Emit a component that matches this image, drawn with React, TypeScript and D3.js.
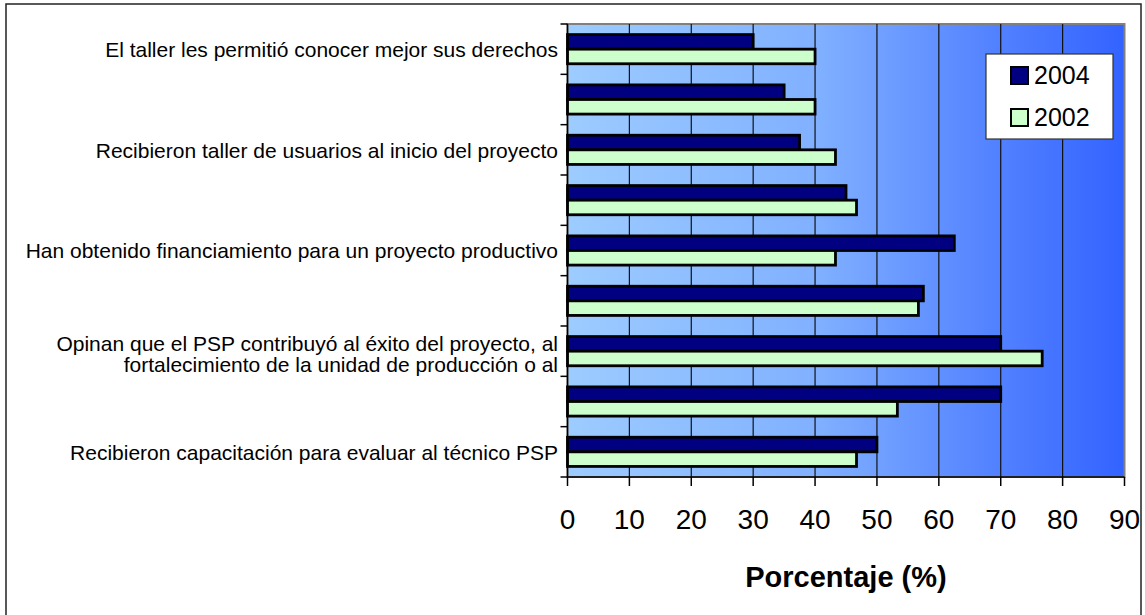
import React from "react";
import * as d3 from "d3";

// Survey items, top to bottom. Items without a printed label are left blank
// (the axis only shows every other label).
const categoryLabels: string[][] = [
  ["El taller les permitió conocer mejor sus derechos"],
  [""],
  ["Recibieron taller de usuarios al inicio del proyecto"],
  [""],
  ["Han obtenido financiamiento para un proyecto productivo"],
  [""],
  [
    "Opinan que el PSP contribuyó al éxito del proyecto, al",
    "fortalecimiento de la unidad de producción o al",
  ],
  [""],
  ["Recibieron capacitación para evaluar al técnico PSP"],
];

const seriesNames = ["2004", "2002"];
const values2004 = [30, 35, 37.5, 45, 62.5, 57.5, 70, 70, 50];
const values2002 = [40, 40, 43.3, 46.7, 43.3, 56.7, 76.7, 53.3, 46.7];
const xTicks = [0, 10, 20, 30, 40, 50, 60, 70, 80, 90];
const xTitle = "Porcentaje (%)";

const W = 1145;
const H = 615;
const plot = { left: 567.5, right: 1124.5, top: 24, bottom: 477 };
const colors: Record<string, string> = { "2004": "#000080", "2002": "#CCFFCC" };
const font = "'Liberation Sans', Arial, sans-serif";

export default function App() {
  const keys = categoryLabels.map((_, i) => String(i));
  const x = d3.scaleLinear().domain([0, 90]).range([plot.left, plot.right]);
  const y0 = d3
    .scaleBand<string>()
    .domain(keys)
    .range([plot.top, plot.bottom])
    .paddingInner(0.42)
    .paddingOuter(0.21);
  const y1 = d3
    .scaleBand<string>()
    .domain(seriesNames)
    .range([0, y0.bandwidth()]);
  const step = y0.step();
  const bandStart = (k: string) => (y0(k) as number) - step * 0.21;
  const bandCenter = (k: string) => bandStart(k) + step / 2;

  const seriesValues: Record<string, number[]> = {
    "2004": values2004,
    "2002": values2002,
  };

  const gridValues = xTicks.filter((t) => t > 0 && t < 90);
  const catTicks = d3.range(keys.length + 1).map((i) => plot.top + i * step);
  const lineH = 21;

  return (
    <svg
      width={W}
      height={H}
      style={{ position: "absolute", left: 0, top: 0, background: "#fff" }}
      fontFamily={font}
    >
      <defs>
        <linearGradient id="plotBg" x1="0" x2="1" y1="0" y2="0">
          <stop offset="0" stopColor="#9DCCFF" />
          <stop offset="0.45" stopColor="#80B0FF" />
          <stop offset="0.75" stopColor="#5584FF" />
          <stop offset="1" stopColor="#3363FF" />
        </linearGradient>
      </defs>

      {/* chart frame */}
      <rect x={6} y={4} width={1135} height={H + 10} fill="#fff" stroke="#222" strokeWidth={1.5} />

      {/* plot area */}
      <rect
        x={plot.left}
        y={plot.top}
        width={plot.right - plot.left}
        height={plot.bottom - plot.top}
        fill="url(#plotBg)"
        stroke="#808080"
        strokeWidth={2}
      />

      {/* vertical gridlines */}
      {gridValues.map((t) => (
        <line
          key={t}
          x1={x(t)}
          x2={x(t)}
          y1={plot.top}
          y2={plot.bottom}
          stroke="#111"
          strokeWidth={1.2}
        />
      ))}

      {/* bars */}
      {keys.map((k, i) => (
        <g key={k}>
          {seriesNames.map((s) => (
            <rect
              key={s}
              x={x(0)}
              y={(y0(k) as number) + (y1(s) as number)}
              width={x(seriesValues[s][i]) - x(0)}
              height={y1.bandwidth()}
              fill={colors[s]}
              stroke="#000"
              strokeWidth={2.8}
            />
          ))}
        </g>
      ))}

      {/* category axis */}
      <line x1={plot.left} x2={plot.left} y1={plot.top} y2={plot.bottom} stroke="#000" strokeWidth={1.5} />
      {catTicks.map((ty, i) => (
        <line key={i} x1={plot.left - 7} x2={plot.left} y1={ty} y2={ty} stroke="#000" strokeWidth={1.5} />
      ))}
      {keys.map((k, i) => {
        const lines = categoryLabels[i];
        const c = bandCenter(k);
        const offset = lines.length > 1 ? -0.4 : 0;
        return (
          <text key={k} textAnchor="end" fontSize={21} fill="#000">
            {lines.map((ln, j) => (
              <tspan key={j} x={558} y={c + (j + offset) * lineH} dy="0.37em">
                {ln}
              </tspan>
            ))}
          </text>
        );
      })}

      {/* value axis */}
      <line x1={plot.left} x2={plot.right} y1={plot.bottom} y2={plot.bottom} stroke="#000" strokeWidth={1.5} />
      {xTicks.map((t) => (
        <g key={t}>
          <line x1={x(t)} x2={x(t)} y1={plot.bottom} y2={plot.bottom + 9} stroke="#000" strokeWidth={1.5} />
          <text x={x(t)} y={529} textAnchor="middle" fontSize={28} fill="#000">
            {t}
          </text>
        </g>
      ))}
      <text
        x={(plot.left + plot.right) / 2}
        y={587}
        textAnchor="middle"
        fontSize={29}
        fontWeight="bold"
        fill="#000"
      >
        {xTitle}
      </text>

      {/* legend */}
      <g>
        <rect x={986} y={54} width={127} height={85} fill="#fff" stroke="#333" strokeWidth={1.2} />
        {seriesNames.map((s, i) => (
          <g key={s} transform={`translate(1011, ${67 + i * 42})`}>
            <rect x={0} y={0} width={17} height={17} fill={colors[s]} stroke="#000" strokeWidth={2} />
            <text x={23} y={17} fontSize={25} fill="#000">
              {s}
            </text>
          </g>
        ))}
      </g>
    </svg>
  );
}
